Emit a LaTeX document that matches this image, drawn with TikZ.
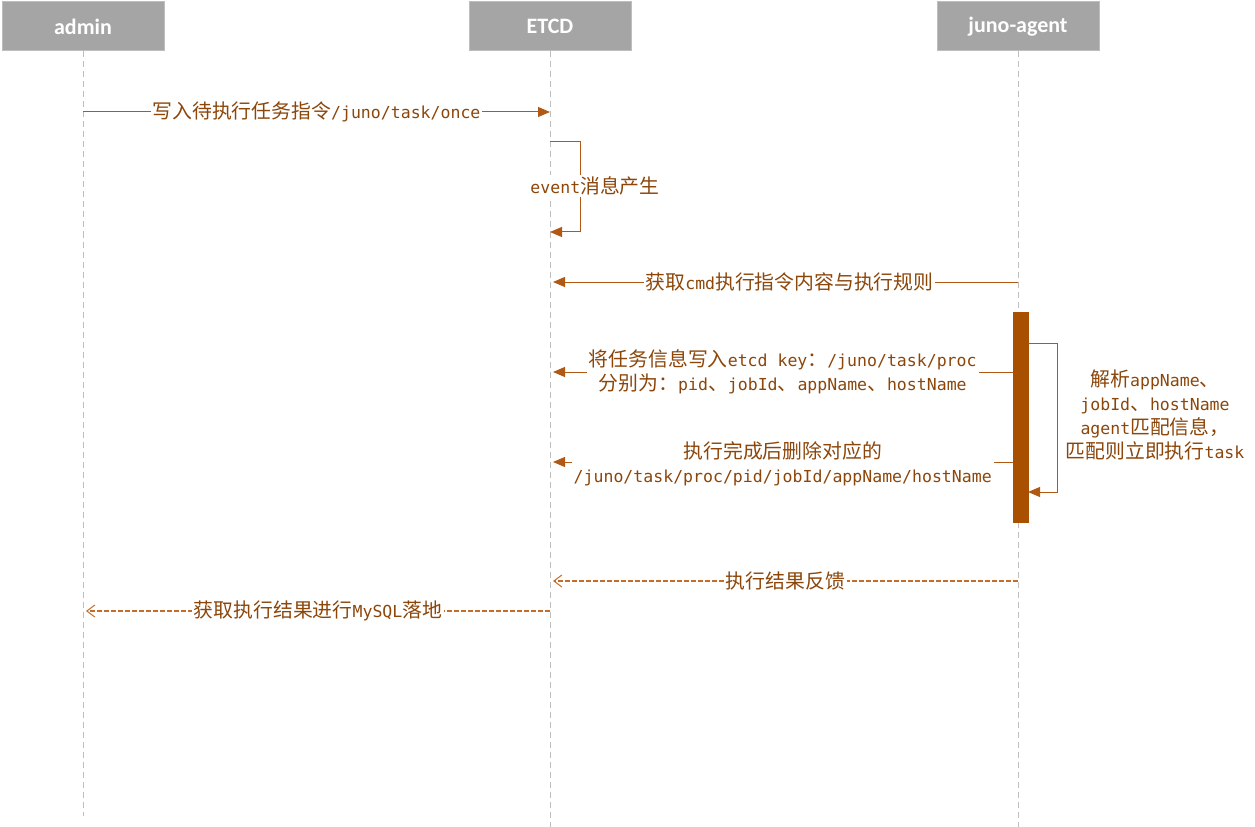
\documentclass[tikz,border=0pt]{standalone}
\usepackage{fontspec}
\setmainfont{DejaVu Sans Mono}
\newfontfamily\cjkfont[Scale=1.2]{Noto Sans CJK SC}
\newfontfamily\headfont{Carlito}
\usetikzlibrary{arrows.meta}
\newcommand{\zh}[1]{{\cjkfont #1}}

\definecolor{headgray}{RGB}{165,165,165}
\definecolor{lifegray}{RGB}{190,190,190}
\definecolor{msgline}{RGB}{176,88,20}
\definecolor{msgtext}{RGB}{140,70,10}
\definecolor{barfill}{RGB}{168,80,0}
\definecolor{retline}{RGB}{196,108,40}

\tikzset{every picture/.style={line width=0.75pt}}
\tikzset{
  headbox/.style={draw=lifegray,fill=headgray,minimum width=121.5pt,minimum height=36.75pt,inner sep=0pt,text=white,font=\headfont\bfseries\fontsize{16.5}{18}\selectfont},
  lifeline/.style={draw=lifegray,line width=0.6pt,dash pattern=on 4.5pt off 3pt},
  msg/.style={draw=msgline,-{Triangle[length=9pt,width=7.5pt]}},
  ret/.style={draw=retline,line width=0.9pt,dash pattern=on 3.75pt off 1.5pt,-{Straight Barb[length=6pt,width=9pt,line width=0.75pt]}},
  msglabel/.style={fill=white,inner sep=1.5pt,text=msgtext,align=center,font=\fontsize{12.4}{18}\selectfont},
}

\begin{document}
\begin{tikzpicture}[x=0.75pt,y=0.75pt,yscale=-1,xscale=1]
\useasboundingbox (0,0) rectangle (1255,827);

% Header boxes
\node[headbox] (admin) at (83,26.5) {admin};
\node[headbox] (etcd) at (550,26.5) {ETCD};
\node[headbox] (agent) at (1018,26.5) {juno-agent};

% Lifelines
\coordinate (adminEnd) at (83,816);
\coordinate (etcdEnd) at (550,827);
\coordinate (agentEnd) at (1018,827);
\draw[lifeline] (admin.south) -- (adminEnd);
\draw[lifeline] (etcd.south) -- (etcdEnd);
\draw[lifeline] (agent.south) -- (agentEnd);

% Activation bar
\node[fill=barfill,draw=barfill,minimum width=11.25pt,minimum height=157.5pt,inner sep=0pt] (bar) at (1020.5,417) {};

% Message end points
\coordinate (a1) at (83,112);
\coordinate (e1) at (550,112);
\coordinate (e2s) at (550,142);
\coordinate (e2r) at (580,142);
\coordinate (e2b) at (580,232);
\coordinate (e2e) at (550,232);
\coordinate (g3) at (1018,282);
\coordinate (e3) at (553,282);
\coordinate (e4) at (553,372);
\coordinate (e5) at (553,462);
\coordinate (b6s) at (1028,343);
\coordinate (b6r) at (1057,343);
\coordinate (b6b) at (1057,492);
\coordinate (b6e) at (1028,492);
\coordinate (g7) at (1018,581);
\coordinate (e7) at (553,581);
\coordinate (e8) at (550,611);
\coordinate (a8) at (86,611);

% Messages
\draw[msg] (a1) -- (e1) node[msglabel,midway] (m1) {\zh{写入待执行任务指令}/juno/task/once};
\draw[msg] (e2s) -- (e2r) -- (e2b) -- (e2e);
\node[msglabel] (m2) at (595,186) {event\zh{消息产生}};
\draw[msg] (g3) -- (e3) node[msglabel,midway,xshift=3pt] (m3) {\zh{获取}cmd\zh{执行指令内容与执行规则}};
\draw[msg] (bar.west |- e4) -- (e4) node[msglabel,midway] (m4) {\zh{将任务信息写入}etcd key\zh{：}/juno/task/proc\\\zh{分别为：}pid\zh{、}jobId\zh{、}appName\zh{、}hostName};
\draw[msg] (bar.west |- e5) -- (e5) node[msglabel,midway,yshift=-1pt] (m5) {\zh{执行完成后删除对应的}\\/juno/task/proc/pid/jobId/appName/hostName};
\draw[msg] (b6s) -- (b6r) -- (b6b) -- (b6e);
\node[msglabel] (m6) at (1155,415) {\zh{解析}appName\zh{、}\\jobId\zh{、}hostName\\agent\zh{匹配信息，}\\\zh{匹配则立即执行}task};
\draw[ret] (g7) -- (e7) node[msglabel,midway] (m7) {\zh{执行结果反馈}};
\draw[ret] (e8) -- (a8) node[msglabel,midway] (m8) {\zh{获取执行结果进行}MySQL\zh{落地}};

\end{tikzpicture}
\end{document}
